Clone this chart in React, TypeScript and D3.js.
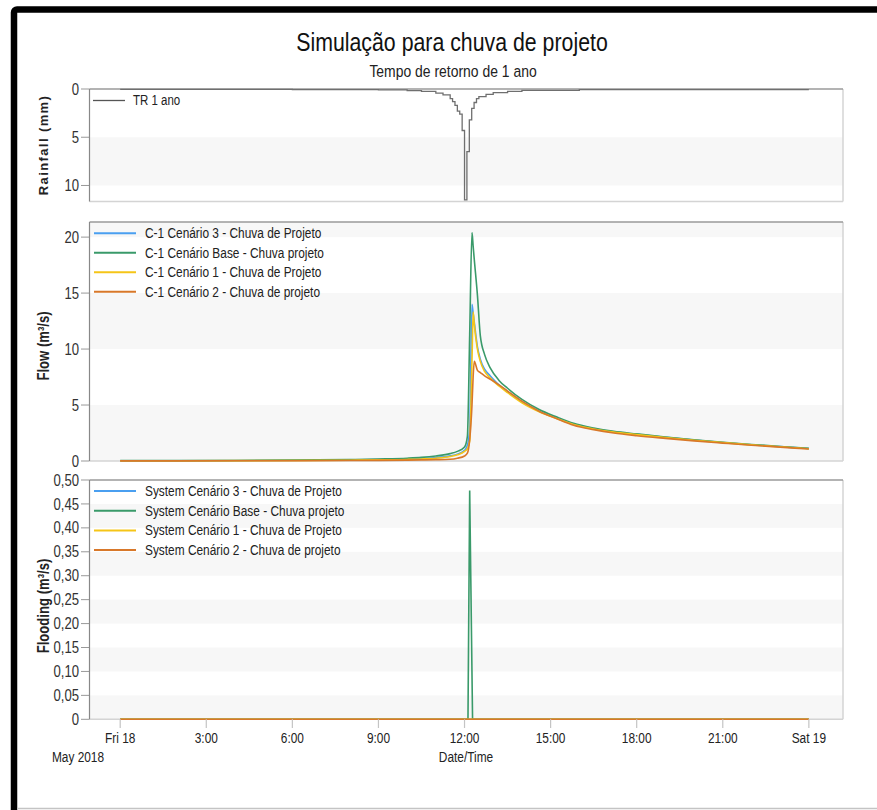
import React from "react";
import * as d3 from "d3";

// ---------- data ----------
const TITLE = "Simulação para chuva de projeto";
const SUBTITLE = "Tempo de retorno de 1 ano";
const START = new Date(2018, 4, 18, 0, 0, 0);

const rainHours = [0, 6, 9, 10, 10.5, 11, 11.25, 11.5, 11.583, 11.667, 11.75, 11.833, 11.917, 12.0, 12.083, 12.167, 12.25, 12.333, 12.417, 12.5, 12.75, 13, 13.5, 14, 16, 24];
const rainMm = [0.03, 0.06, 0.1, 0.16, 0.25, 0.42, 0.6, 1.0, 1.3, 1.7, 2.3, 2.6, 4.3, 11.5, 6.5, 3.2, 2.0, 1.4, 1.0, 0.8, 0.55, 0.38, 0.25, 0.15, 0.07, 0.07];

const flowHours = [0, 4, 8, 9, 10, 10.5, 11, 11.5, 11.75, 12, 12.1, 12.18, 12.26, 12.3, 12.34, 12.45, 12.55, 12.7, 12.9, 13.2, 13.5, 14, 14.6, 15.2, 15.8, 16.5, 17.2, 18, 19, 20, 21, 22, 23, 24];
const flowCen3 = [0.02, 0.04, 0.09, 0.12, 0.17, 0.22, 0.3, 0.46, 0.6, 0.95, 1.4, 2.8, 14.0, 13.2, 12.4, 10.2, 9.1, 8.2, 7.6, 6.8, 6.2, 5.3, 4.45, 3.85, 3.3, 2.88, 2.6, 2.38, 2.12, 1.87, 1.65, 1.45, 1.28, 1.11];
const flowBase = [0.03, 0.05, 0.13, 0.18, 0.25, 0.32, 0.45, 0.66, 0.86, 1.25, 2.2, 11.3, 20.4, 19.2, 18.0, 14.8, 11.2, 9.5, 8.3, 7.2, 6.5, 5.5, 4.6, 3.95, 3.37, 2.95, 2.65, 2.42, 2.15, 1.9, 1.68, 1.48, 1.3, 1.13];
const flowCen1 = [0.02, 0.03, 0.07, 0.1, 0.14, 0.18, 0.25, 0.4, 0.55, 0.85, 1.1, 1.8, 9.0, 13.3, 12.2, 10.0, 8.9, 8.0, 7.4, 6.7, 6.1, 5.2, 4.4, 3.8, 3.27, 2.86, 2.58, 2.36, 2.1, 1.86, 1.64, 1.44, 1.27, 1.1];
const flowCen2 = [0.01, 0.02, 0.04, 0.06, 0.08, 0.1, 0.12, 0.16, 0.25, 0.45, 0.7, 1.9, 5.0, 7.5, 8.9, 8.1, 7.9, 7.6, 7.3, 6.8, 6.25, 5.35, 4.45, 3.8, 3.2, 2.8, 2.5, 2.26, 2.02, 1.8, 1.6, 1.41, 1.24, 1.07];

const floodHours = [0, 12.12, 12.18, 12.28, 24];
const floodCen3 = [0, 0, 0, 0, 0];
const floodBase = [0, 0, 0.478, 0, 0];
const floodCen1 = [0, 0, 0, 0, 0];
const floodCen2 = [0, 0, 0, 0, 0];

const seriesColors = ["#4a9ff0", "#3a9a6a", "#f5c518", "#d8782a"];
const flowLabels = [
  "C-1 Cenário 3 - Chuva de Projeto",
  "C-1 Cenário Base - Chuva projeto",
  "C-1 Cenário 1 - Chuva de Projeto",
  "C-1 Cenário 2 - Chuva de projeto",
];
const floodLabels = [
  "System Cenário 3 - Chuva de Projeto",
  "System Cenário Base - Chuva projeto",
  "System Cenário 1 - Chuva de Projeto",
  "System Cenário 2 - Chuva de projeto",
];
const rainLabel = "TR 1 ano";
const rainTicks = [0, 5, 10];
const flowTicks = [0, 5, 10, 15, 20];
const floodTicks = [0, 0.05, 0.1, 0.15, 0.2, 0.25, 0.3, 0.35, 0.4, 0.45, 0.5];

// ---------- layout ----------
const W = 877;
const H = 810;
const FONT = "'Liberation Sans',Arial,sans-serif";
const SQ = 0.82; // horizontal condensing of the narrow font
const X0 = 89.5;
const X1 = 843;

const toDate = (h: number) => new Date(+START + h * 3600e3);

const x = d3.scaleTime().domain([toDate(-1.07), toDate(25.19)]).range([X0, X1]);

const yRain = d3.scaleLinear().domain([0, 11.66]).range([89, 201.5]);
const yFlow = d3.scaleLinear().domain([0, 21.35]).range([461, 222]);
const yFlood = d3.scaleLinear().domain([0, 0.5]).range([719.3, 480]);

const BAND = "#f7f7f7";

function NT({ x, y, size, anchor = "start", weight = "normal", fill = "#222", rotate = 0, dy, spacing, children }: any) {
  const tf = `translate(${x},${y})${rotate ? ` rotate(${rotate})` : ""} scale(${SQ},1)`;
  return (
    <text transform={tf} textAnchor={anchor} fontFamily={FONT} fontSize={size} fontWeight={weight} fill={fill} dy={dy} letterSpacing={spacing}>
      {children}
    </text>
  );
}

function Panel({ y, bands, ticks, fmt }: { y: d3.ScaleLinear<number, number>; bands: [number, number][]; ticks: number[]; fmt: (d: number) => string }) {
  const [r0, r1] = y.range();
  const top = Math.min(r0, r1);
  const bot = Math.max(r0, r1);
  return (
    <g>
      <rect x={X0} y={top} width={X1 - X0} height={bot - top} fill="#fff" />
      {bands.map(([a, b], i) => {
        const ya = y(a), yb = y(b);
        return <rect key={i} x={X0} y={Math.min(ya, yb)} width={X1 - X0} height={Math.abs(yb - ya)} fill={BAND} />;
      })}
      {ticks.map((t) => (
        <g key={t}>
          <line x1={81} x2={X0} y1={y(t)} y2={y(t)} stroke="#999" strokeWidth={1} />
          <NT x={79} y={y(t)} dy="0.35em" anchor="end" size={16} fill="#333">
            {fmt(t)}
          </NT>
        </g>
      ))}
    </g>
  );
}

function Frame({ y }: { y: d3.ScaleLinear<number, number> }) {
  const [r0, r1] = y.range();
  const top = Math.min(r0, r1);
  const bot = Math.max(r0, r1);
  return (
    <g>
      <line x1={X1} x2={X1} y1={top} y2={bot} stroke="#d4d4d4" strokeWidth={1.5} />
      <line x1={X0} x2={X1} y1={bot} y2={bot} stroke="#d4d4d4" strokeWidth={1.5} />
      <line x1={X0} x2={X1} y1={top} y2={top} stroke="#9a9a9a" strokeWidth={1.5} />
      <line x1={X0} x2={X0} y1={top} y2={bot} stroke="#888" strokeWidth={1.2} />
    </g>
  );
}

function Legend({ labels, colors, x0, y0, step }: { labels: string[]; colors: string[]; x0: number; y0: number; step: number }) {
  return (
    <g>
      {labels.map((l, i) => (
        <g key={l}>
          <line x1={x0} x2={x0 + 42} y1={y0 + i * step} y2={y0 + i * step} stroke={colors[i]} strokeWidth={2} />
          <NT x={x0 + 51} y={y0 + i * step} dy="0.35em" size={14.5} fill="#222">
            {l}
          </NT>
        </g>
      ))}
    </g>
  );
}

export default function App() {
  const rainLine = d3
    .line<number>()
    .x((_, i) => x(toDate(rainHours[i])))
    .y((d) => yRain(d))
    .curve(d3.curveStepAfter);
  const flowLine = d3
    .line<number>()
    .x((_, i) => x(toDate(flowHours[i])))
    .y((d) => yFlow(d))
    .curve(d3.curveMonotoneX);
  const floodLine = d3
    .line<number>()
    .x((_, i) => x(toDate(floodHours[i])))
    .y((d) => yFlood(d));

  const flowData = [flowCen3, flowBase, flowCen1, flowCen2];
  const floodData = [floodCen3, floodBase, floodCen1, floodCen2];

  const xTicks = x.ticks(d3.timeHour.every(3) as any);
  const fmtX = (d: Date) => (d.getHours() === 0 ? d3.timeFormat("%a %-d")(d) : d3.timeFormat("%-H:%M")(d));
  const fmtFlood = (d: number) => (d === 0 ? "0" : d3.format(".2f")(d).replace(".", ","));

  return (
    <div style={{ position: "fixed", left: 0, top: 0, width: W, height: H, background: "#fff" }}>
      <svg width={W} height={H} viewBox={`0 0 ${W} ${H}`} style={{ display: "block" }}>
        <rect width={W} height={H} fill="#fff" />
        {/* outer frame */}
        <rect x={14} y={9.5} width={1000} height={1000} rx={3} fill="none" stroke="#000" strokeWidth={6.5} />
        <line x1={17} x2={W} y1={808.5} y2={808.5} stroke="#c4c4c4" strokeWidth={1.5} />

        <NT x={452} y={51} anchor="middle" size={26} fill="#111">
          {TITLE}
        </NT>
        <NT x={453} y={77} anchor="middle" size={17} fill="#222">
          {SUBTITLE}
        </NT>

        {/* rainfall panel */}
        <Panel y={yRain} bands={[[5, 10]]} ticks={rainTicks} fmt={(d) => String(d)} />
        <Frame y={yRain} />
        <path d={rainLine(rainMm) || ""} fill="none" stroke="#6f6f6f" strokeWidth={1.3} />
        <line x1={93} x2={125} y1={100.5} y2={100.5} stroke="#555" strokeWidth={1.3} />
        <NT x={133} y={100.5} dy="0.35em" size={14} fill="#222">
          {rainLabel}
        </NT>
        <text transform="translate(48,145) rotate(-90)" textAnchor="middle" fontFamily={FONT} fontWeight="bold" fontSize={13} letterSpacing={1.4} fill="#222">
          Rainfall (mm)
        </text>

        {/* flow panel */}
        <Panel y={yFlow} bands={[[0, 5], [10, 15], [20, 21.35]]} ticks={flowTicks} fmt={(d) => String(d)} />
        <Frame y={yFlow} />
        {flowData.map((s, i) => (
          <path key={i} d={flowLine(s) || ""} fill="none" stroke={seriesColors[i]} strokeWidth={1.6} />
        ))}
        <Legend labels={flowLabels} colors={seriesColors} x0={94} y0={233.3} step={19.5} />
        <NT x={49} y={346} rotate={-90} anchor="middle" size={16} weight="bold" fill="#222">
          Flow (m³/s)
        </NT>

        {/* flooding panel */}
        <Panel y={yFlood} bands={[[0, 0.05], [0.1, 0.15], [0.2, 0.25], [0.3, 0.35], [0.4, 0.45]]} ticks={floodTicks} fmt={fmtFlood} />
        <Frame y={yFlood} />
        {floodData.map((s, i) => (
          <path key={i} d={floodLine(s) || ""} fill="none" stroke={seriesColors[i]} strokeWidth={1.6} />
        ))}
        <Legend labels={floodLabels} colors={seriesColors} x0={94} y0={491} step={19.7} />
        <NT x={49} y={606} rotate={-90} anchor="middle" size={16} weight="bold" fill="#222">
          Flooding (m³/s)
        </NT>

        {/* x axis */}
        {xTicks.map((t) => (
          <g key={+t}>
            <line x1={x(t)} x2={x(t)} y1={719.3} y2={728} stroke="#c4c4c4" strokeWidth={1.2} />
            <NT x={x(t)} y={743} anchor="middle" size={14.5} fill="#222">
              {fmtX(t)}
            </NT>
          </g>
        ))}
        <NT x={78} y={762} anchor="middle" size={14.5} fill="#222">
          May 2018
        </NT>
        <NT x={466} y={762} anchor="middle" size={14.5} fill="#222">
          Date/Time
        </NT>
      </svg>
    </div>
  );
}
